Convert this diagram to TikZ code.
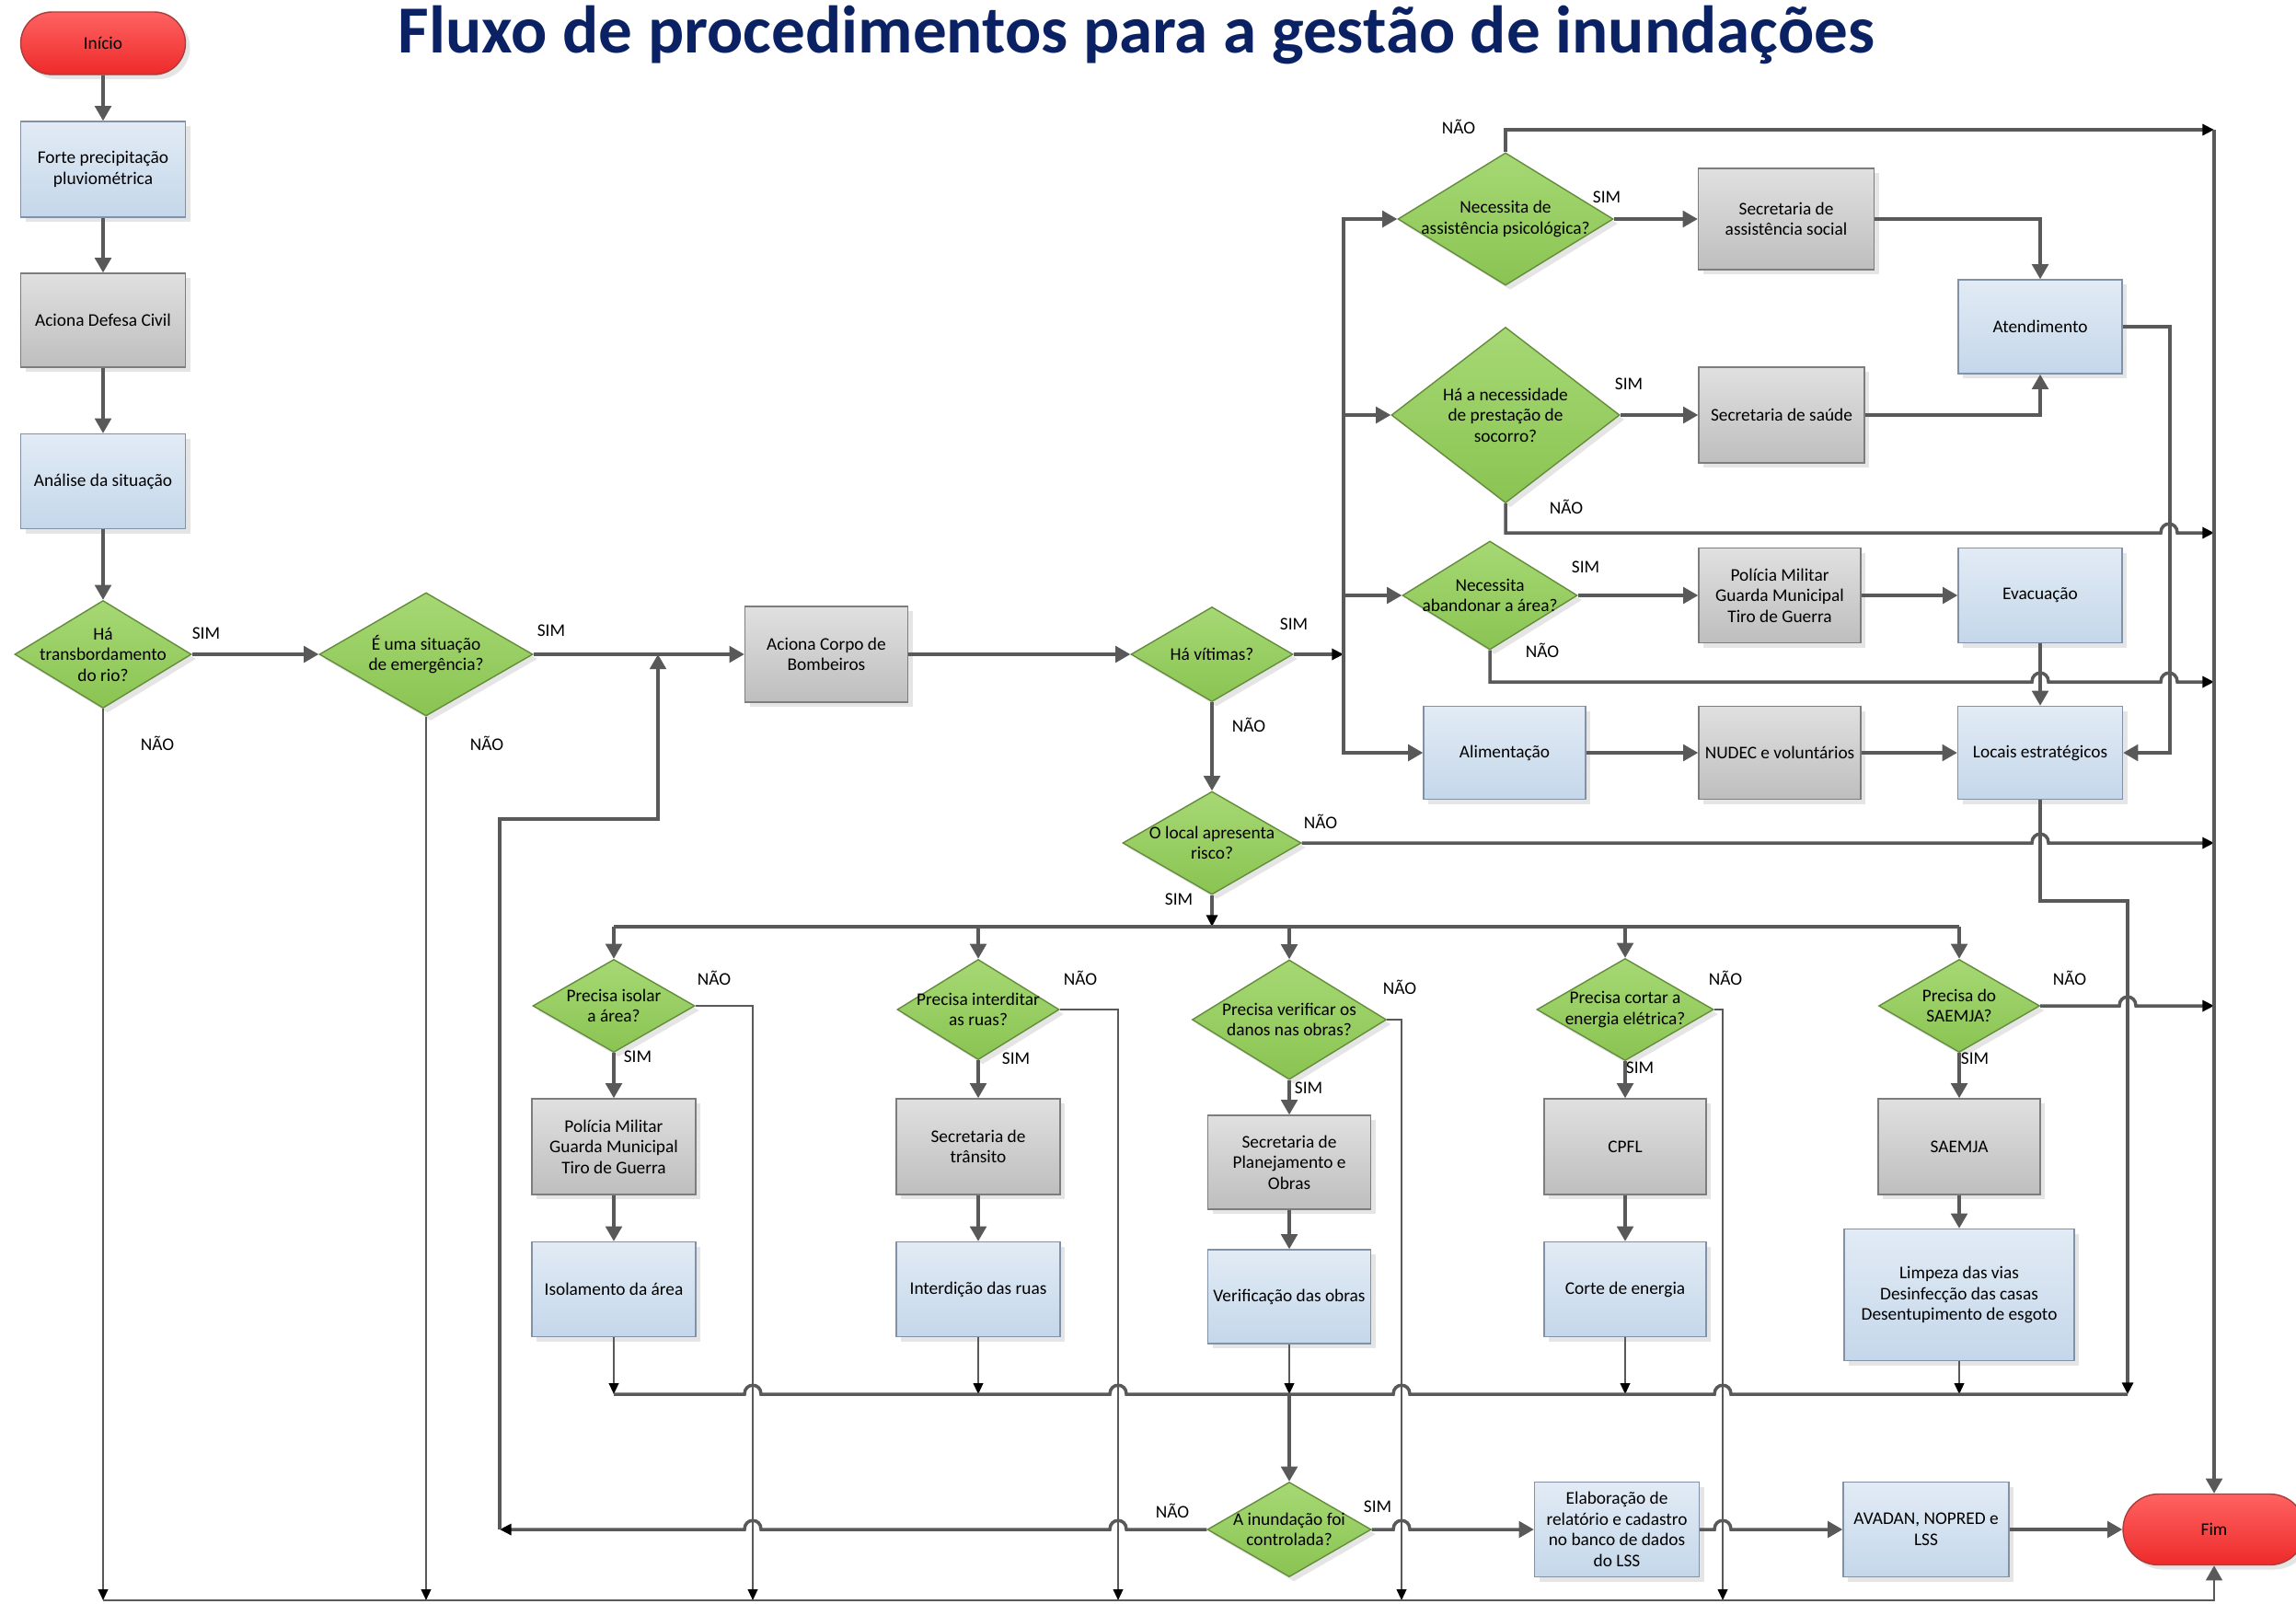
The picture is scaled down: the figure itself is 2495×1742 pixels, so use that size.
\documentclass[tikz,border=0pt]{standalone}
\usepackage{fontspec}
\setmainfont{Carlito}
\usetikzlibrary{arrows.meta,shapes.geometric,shapes.misc,shadows}
\definecolor{linegrey}{RGB}{89,89,89}
\definecolor{greytop}{RGB}{224,224,224}
\definecolor{greybot}{RGB}{190,190,190}
\definecolor{bluetop}{RGB}{226,235,245}
\definecolor{bluebot}{RGB}{196,215,234}
\definecolor{greentop}{RGB}{166,216,116}
\definecolor{greenbot}{RGB}{138,196,82}
\definecolor{redtop}{RGB}{255,98,98}
\definecolor{redbot}{RGB}{238,42,42}
\definecolor{titleblue}{RGB}{10,34,100}

\begin{document}
\begin{tikzpicture}[x=0.01cm,y=-0.01cm,font=\fontsize{5.5}{6.4}\selectfont,
  wh/.style 2 args={minimum width=#1*0.01cm,minimum height=#2*0.01cm},
  shadowed/.style={drop shadow={shadow xshift=0.05cm,shadow yshift=-0.05cm,opacity=0.2}},
  greybox/.style={rectangle,shadowed,draw={rgb,255:red,125;green,125;blue,125},line width=0.4pt,top color=greytop,bottom color=greybot,align=center,inner sep=1pt},
  bluebox/.style={rectangle,shadowed,draw={rgb,255:red,130;green,145;blue,165},line width=0.4pt,top color=bluetop,bottom color=bluebot,align=center,inner sep=1pt},
  terminal/.style={rounded rectangle,shadowed,draw={rgb,255:red,170;green,60;blue,60},line width=0.4pt,top color=redtop,bottom color=redbot,inner sep=0pt},
  decision/.style={diamond,shadowed,draw={rgb,255:red,100;green,140;blue,60},line width=0.4pt,top color=greentop,bottom color=greenbot,inner sep=0pt},
  txt/.style={align=center,inner sep=0pt},
  yesno/.style={inner sep=0pt},
  wire/.style={draw=linegrey,line width=1pt},
  link/.style={draw=linegrey,line width=1pt,-{Triangle[length=4.6pt,width=5pt]}},
  tiplink/.style={draw=linegrey,line width=1pt,-{Triangle[length=3.6pt,width=3.4pt,color=black]}},
  nolink/.style={draw=linegrey,line width=0.6pt,-{Triangle[length=3.4pt,width=3pt,color=black]}},
  hop/.style 2 args={insert path={-- (#1-9,#2) .. controls (#1-9,#2-13) and (#1+9,#2-13) .. (#1+9,#2)}},
  hopback/.style 2 args={insert path={-- (#1+9,#2) .. controls (#1+9,#2-13) and (#1-9,#2-13) .. (#1-9,#2)}}]
\fill[white] (0,0) rectangle (2495,1742);
\useasboundingbox (0,0) rectangle (2495,1742);
\node[anchor=base,text=titleblue,font=\fontsize{20.8}{25}\selectfont\bfseries] (title) at (1235,57) {Fluxo de procedimentos para a gestão de inundações};
% coluna da esquerda
\node[terminal,wh={179}{68}] (inicio) at (112,47) {Início};
\node[bluebox,wh={179}{104}] (chuva) at (112,184) {Forte precipitação\\pluviométrica};
\node[greybox,wh={179}{102}] (defesa) at (112,348) {Aciona Defesa Civil};
\node[bluebox,wh={179}{103}] (analise) at (112,523) {Análise da situação};
\node[decision,wh={192}{117},label={[txt]center:{Há\\transbordamento\\do rio?}}] (rio) at (112,711) {};
\node[decision,wh={232}{134},label={[txt]center:{É uma situação\\de emergência?}}] (emerg) at (463,711) {};
\node[greybox,wh={177}{104}] (bombeiros) at (898,711) {Aciona Corpo de\\Bombeiros};
\node[decision,wh={176}{103},label={[txt]center:{Há vítimas?}}] (vitimas) at (1317,711) {};
% vitimas
\node[decision,wh={234}{144},label={[txt]center:{Necessita de\\assistência psicológica?}}] (psico) at (1636,238) {};
\node[decision,wh={248}{191},label={[txt]center:{Há a necessidade\\de prestação de\\socorro?}}] (socorro) at (1636,451) {};
\node[decision,wh={190}{118},label={[txt]center:{Necessita\\abandonar a área?}}] (abandono) at (1619,647) {};
\node[greybox,wh={191}{110}] (social) at (1941,238) {Secretaria de\\assistência social};
\node[greybox,wh={180}{104}] (saude) at (1936,451) {Secretaria de saúde};
\node[bluebox,wh={178}{102}] (atend) at (2217,355) {Atendimento};
\node[greybox,wh={176}{103}] (policia) at (1934,647) {Polícia Militar\\Guarda Municipal\\Tiro de Guerra};
\node[bluebox,wh={178}{103}] (evac) at (2217,647) {Evacuação};
\node[bluebox,wh={176}{101}] (alim) at (1635,818) {Alimentação};
\node[greybox,wh={176}{101}] (nudec) at (1934,818) {NUDEC e voluntários};
\node[bluebox,wh={179}{101}] (locais) at (2217,818) {Locais estratégicos};
\node[decision,wh={194}{112},label={[txt]center:{O local apresenta\\risco?}}] (risco) at (1317,916) {};
% acoes no local de risco
\node[decision,wh={176}{101},label={[txt]center:{Precisa isolar\\a área?}}] (q1) at (667,1093) {};
\node[decision,wh={176}{109},label={[txt]center:{Precisa interditar\\as ruas?}}] (q2) at (1063,1097) {};
\node[decision,wh={211}{130},label={[txt]center:{Precisa verificar os\\danos nas obras?}}] (q3) at (1401,1108) {};
\node[decision,wh={192}{111},label={[txt]center:{Precisa cortar a\\energia elétrica?}}] (q4) at (1766,1097) {};
\node[decision,wh={175}{101},label={[txt]center:{Precisa do\\SAEMJA?}}] (q5) at (2129,1093) {};
\node[greybox,wh={178}{104}] (g1) at (667,1246) {Polícia Militar\\Guarda Municipal\\Tiro de Guerra};
\node[greybox,wh={178}{104}] (g2) at (1063,1246) {Secretaria de\\trânsito};
\node[greybox,wh={177}{102}] (g3) at (1401,1263) {Secretaria de\\Planejamento e\\Obras};
\node[greybox,wh={176}{104}] (g4) at (1766,1246) {CPFL};
\node[greybox,wh={176}{104}] (g5) at (2129,1246) {SAEMJA};
\node[bluebox,wh={178}{103}] (b1) at (667,1401) {Isolamento da área};
\node[bluebox,wh={178}{103}] (b2) at (1063,1401) {Interdição das ruas};
\node[bluebox,wh={177}{102}] (b3) at (1401,1409) {Verificação das obras};
\node[bluebox,wh={176}{103}] (b4) at (1766,1401) {Corte de energia};
\node[bluebox,wh={250}{143}] (b5) at (2129,1407) {Limpeza das vias\\Desinfecção das casas\\Desentupimento de esgoto};
% final
\node[decision,wh={178}{103},label={[txt]center:{A inundação foi\\controlada?}}] (ctrl) at (1401,1662) {};
\node[bluebox,wh={179}{103}] (elab) at (1757,1662) {Elaboração de\\relatório e cadastro\\no banco de dados\\do LSS};
\node[bluebox,wh={180}{103}] (avadan) at (2093,1662) {AVADAN, NOPRED e\\LSS};
\node[terminal,wh={198}{77}] (fim) at (2406,1662) {Fim};
% rotulos
\foreach \i/\p in {1/{224,688},2/{599,685},3/{1406,678},4/{1746,214},5/{1770,417},6/{1723,616},7/{1281,977},8/{693,1148},9/{1104,1150},10/{1422,1182},11/{1782,1160},12/{2146,1150},13/{1497,1637}}{\node[yesno] (sim\i) at (\p) {SIM};}
\foreach \i/\p in {1/{171,808},2/{529,808},3/{1357,788},4/{1585,138},5/{1702,551},6/{1676,707},7/{1435,893},8/{776,1063},9/{1174,1063},10/{1521,1073},11/{1875,1063},12/{2249,1063},13/{1274,1642}}{\node[yesno] (nao\i) at (\p) {NÃO};}
% pontos livres
\coordinate (bus) at (1460,711);
\coordinate (spread) at (1317,1007);
\coordinate (merge) at (1401,1515);
\coordinate (mergeL) at (667,1515);
\coordinate (mergeR) at (2312,1515);
\coordinate (rail1) at (2406,141);
\coordinate (rail2) at (2406,579);
\coordinate (rail3) at (2406,741);
\coordinate (rail4) at (2406,916);
\coordinate (rail5) at (2406,1093);
\coordinate (floorL) at (112,1739);
\coordinate (floorR) at (2406,1739);
\coordinate (loopfoot) at (543,1662);
\coordinate (loopknee) at (715,890);
\coordinate (loopup) at (715,711);
% ligacoes
\draw[link] (inicio) -- (chuva);
\draw[link] (chuva) -- (defesa);
\draw[link] (defesa) -- (analise);
\draw[link] (analise) -- (rio);
\draw[link] (rio) -- (emerg);
\draw[link] (emerg) -- (bombeiros);
\draw[link] (bombeiros) -- (vitimas);
\draw[tiplink] (vitimas) -- (bus);
\foreach \t in {psico,socorro,abandono,alim}{\draw[link] (bus) |- (\t.west);}
\draw[link] (psico) -- (social);
\draw[link] (socorro) -- (saude);
\draw[link] (abandono) -- (policia);
\draw[link] (policia) -- (evac);
\draw[link] (alim) -- (nudec);
\draw[link] (nudec) -- (locais);
\draw[link] (social.east) -| (atend.north);
\draw[link] (saude.east) -| (atend.south);
\draw[link] (atend.east) -- ++(51,0) |- (locais.east);
\draw[link] (evac) -- (locais);
\draw[tiplink] (psico.north) |- (rail1);
\draw[tiplink] (socorro.south) -- (socorro.south|-rail2) [hop={2357}{579}] -- (rail2);
\draw[tiplink] (abandono.south) -- (abandono.south|-rail3) [hop={2217}{741}] [hop={2357}{741}] -- (rail3);
\draw[tiplink] (risco.east) [hop={2217}{916}] -- (rail4);
\draw[tiplink] (q5.east) [hop={2312}{1093}] -- (rail5);
\draw[link] (rail1) -- (fim.north);
\draw[tiplink] (locais.south) -- ++(0,110) -| (mergeR);
\draw[link] (vitimas) -- (risco);
\draw[tiplink] (risco) -- (spread);
\draw[wire] (q1.north|-spread) -- (q5.north|-spread);
\foreach \n in {1,...,5}{
  \draw[link] (q\n.north|-spread) -- (q\n.north);
  \draw[link] (q\n) -- (g\n);
  \draw[link] (g\n) -- (b\n);
  \draw[nolink] (b\n.south) -- (b\n.south|-mergeR);
}
\foreach \n/\x in {1/818,2/1215,3/1523,4/1872}{\coordinate (drop\n) at (\x,1739); \draw[nolink] (q\n.east) -| (drop\n);}
\draw[wire] (mergeL) [hop={818}{1515}] [hop={1215}{1515}] [hop={1523}{1515}] [hop={1872}{1515}] -- (mergeR);
\draw[link] (merge) -- (ctrl);
\draw[tiplink] (ctrl.west) [hopback={1215}{1662}] [hopback={818}{1662}] -- (loopfoot);
\draw[link] (loopfoot) |- (loopknee) -- (loopup);
\draw[link] (ctrl.east) [hop={1523}{1662}] -- (elab.west);
\draw[link] (elab.east) [hop={1872}{1662}] -- (avadan.west);
\draw[link] (avadan) -- (fim);
\draw[nolink] (rio.south) -- (rio.south|-floorL);
\draw[nolink] (emerg.south) -- (emerg.south|-floorL);
\draw[link,line width=0.8pt] (floorL) -- (floorR) -- (fim.south);
\end{tikzpicture}
\end{document}
